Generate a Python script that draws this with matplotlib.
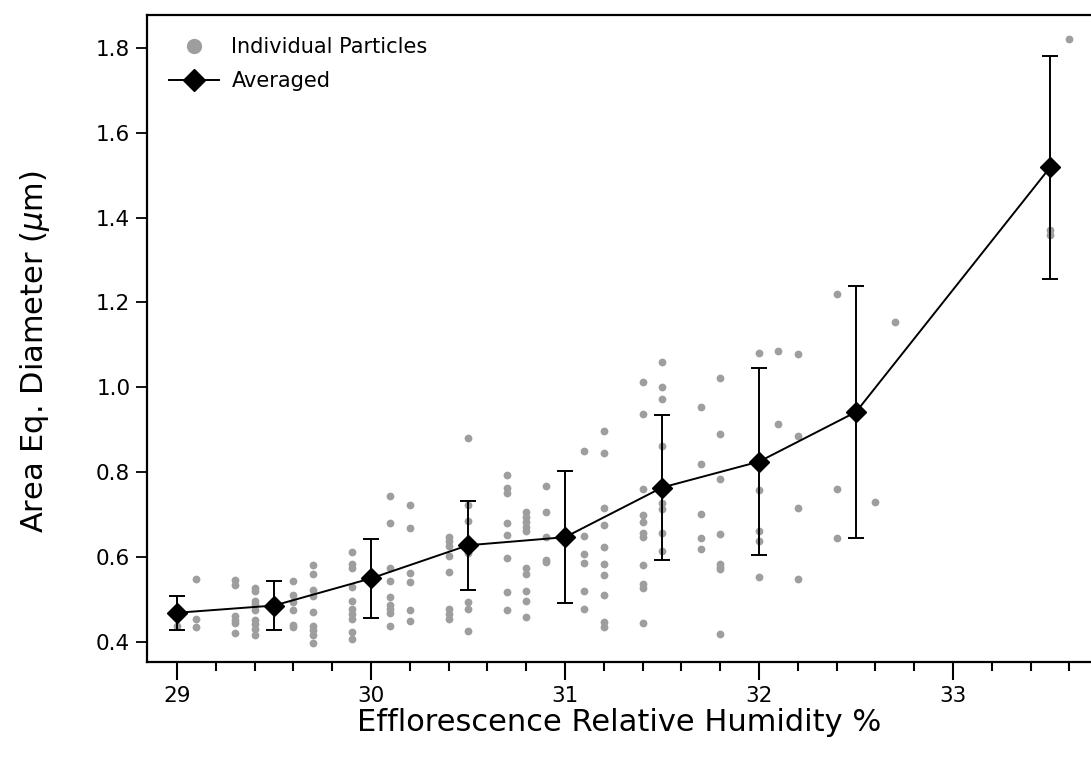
import numpy as np
import matplotlib.pyplot as plt
from matplotlib.lines import Line2D
from matplotlib.ticker import MultipleLocator

# Individual particles (ERH %, area-equivalent diameter in um)
particle_rh = (
    [29.0] * 2 + [29.1] * 3 + [29.3] * 6 + [29.4] * 9 + [29.6] * 6 + [29.7] * 9
    + [29.9] * 10 + [30.1] * 9 + [30.2] * 6 + [30.4] * 8 + [30.5] * 8
    + [30.7] * 8 + [30.8] * 10 + [30.9] * 5 + [31.1] * 6 + [31.2] * 10
    + [31.4] * 11 + [31.5] * 8 + [31.7] * 5 + [31.8] * 8 + [32.0] * 5
    + [32.1] * 2 + [32.2] * 4 + [32.4] * 3 + [32.6] * 1 + [32.7] * 1
    + [33.5] * 2 + [33.6] * 1
)
particle_d = [
    0.438, 0.470,
    0.548, 0.454, 0.435,
    0.546, 0.534, 0.462, 0.452, 0.444, 0.422,
    0.527, 0.520, 0.497, 0.490, 0.475, 0.452, 0.442, 0.431, 0.417,
    0.544, 0.511, 0.495, 0.475, 0.440, 0.435,
    0.581, 0.560, 0.523, 0.508, 0.471, 0.438, 0.428, 0.417, 0.397,
    0.611, 0.583, 0.575, 0.530, 0.497, 0.477, 0.467, 0.455, 0.424, 0.406,
    0.745, 0.680, 0.574, 0.544, 0.507, 0.487, 0.477, 0.468, 0.438,
    0.722, 0.669, 0.562, 0.541, 0.475, 0.449,
    0.648, 0.638, 0.627, 0.603, 0.565, 0.477, 0.465, 0.454,
    0.880, 0.723, 0.685, 0.628, 0.609, 0.495, 0.479, 0.427,
    0.793, 0.764, 0.750, 0.681, 0.652, 0.599, 0.519, 0.475,
    0.707, 0.695, 0.683, 0.672, 0.662, 0.574, 0.560, 0.521, 0.497, 0.458,
    0.768, 0.706, 0.647, 0.593, 0.588,
    0.851, 0.650, 0.607, 0.587, 0.520, 0.477,
    0.896, 0.845, 0.715, 0.676, 0.625, 0.583, 0.558, 0.510, 0.448, 0.435,
    1.013, 0.936, 0.760, 0.699, 0.683, 0.658, 0.648, 0.581, 0.536, 0.527, 0.446,
    1.060, 1.001, 0.972, 0.862, 0.727, 0.713, 0.656, 0.615,
    0.953, 0.819, 0.701, 0.646, 0.619,
    1.023, 0.890, 0.784, 0.654, 0.584, 0.577, 0.571, 0.418,
    1.081, 0.757, 0.662, 0.638, 0.553,
    1.086, 0.914,
    1.078, 0.885, 0.716, 0.548,
    1.220, 0.761, 0.646,
    0.731,
    1.154,
    1.359, 1.371,
    1.821,
]

# Averaged values with standard deviation
avg_rh = [29.0, 29.5, 30.0, 30.5, 31.0, 31.5, 32.0, 32.5, 33.5]
avg_d = [0.469, 0.486, 0.550, 0.628, 0.647, 0.764, 0.825, 0.942, 1.518]
avg_err = [0.040, 0.057, 0.093, 0.105, 0.155, 0.171, 0.220, 0.297, 0.262]

plt.rcParams['font.family'] = ['DejaVu Sans']
grey = '#9e9e9e'

fig = plt.figure(figsize=(10.91, 7.61), dpi=100)
ax = fig.add_axes([147 / 1091, 1 - 662 / 761, 1 - 147 / 1091, (662 - 15) / 761])

ax.plot(particle_rh, particle_d, 'o', color=grey, markersize=5.6,
        markeredgewidth=0, zorder=2)
ax.errorbar(avg_rh, avg_d, yerr=avg_err, color='black', lw=1.4,
            elinewidth=1.4, capsize=6, capthick=1.4, marker='D',
            markersize=10, zorder=3)

ax.set_xlim(28.845, 33.711)
ax.set_ylim(0.353, 1.877)
ax.xaxis.set_major_locator(MultipleLocator(1))
ax.xaxis.set_minor_locator(MultipleLocator(0.2))
ax.yaxis.set_major_locator(MultipleLocator(0.2))
ax.yaxis.set_major_formatter(plt.FormatStrFormatter('%.1f'))

ax.tick_params(axis='x', which='major', direction='out', length=13, width=1.5,
               labelsize=15.5, pad=4)
ax.tick_params(axis='x', which='minor', direction='out', length=6.5, width=1.5)
ax.tick_params(axis='y', direction='out', length=8, width=1.3, labelsize=15.5, pad=4)

for side in ['left', 'bottom', 'top']:
    ax.spines[side].set_linewidth(1.6)
ax.spines['right'].set_visible(False)

ax.set_xlabel('Efflorescence Relative Humidity %', fontsize=22, labelpad=2)
ax.set_ylabel(r'Area Eq. Diameter ($\mu$m)', fontsize=22)
ax.yaxis.set_label_coords(-0.101, 0.48)

# legend handles: bigger dot, line + diamond without error bars
handles = [
    Line2D([], [], ls='none', marker='o', color=grey, markersize=11,
           markeredgewidth=0),
    Line2D([], [], color='black', lw=1.4, marker='D', markersize=11),
]
ax.legend(handles, ['Individual Particles', 'Averaged'], loc='upper left',
          frameon=False, fontsize=15, handlelength=2.4, borderaxespad=0.9,
          handletextpad=0.6, labelspacing=0.7, borderpad=0.15)

fig.savefig('out.png', dpi=100)
